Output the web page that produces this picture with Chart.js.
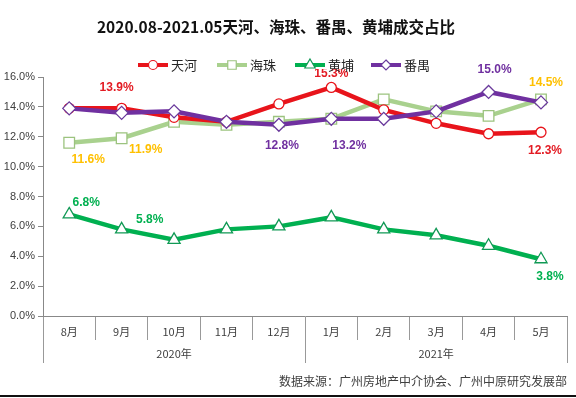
<!DOCTYPE html>
<html>
<head>
<meta charset="utf-8">
<script src="https://cdn.jsdelivr.net/npm/chart.js@4/dist/chart.umd.min.js"></script>
<style>
body{margin:0;background:#fff;}
#wrap{position:relative;width:576px;height:398px;background:#fff;overflow:hidden;}
#title{position:absolute;left:0;top:16px;width:552px;text-align:center;font:bold 15.5px/20px "Noto Sans CJK SC",sans-serif;color:#111;}
#src{position:absolute;right:9px;top:373px;font:12px/16px "Noto Sans CJK SC",sans-serif;color:#404040;}
#bar{position:absolute;left:0;top:395px;width:576px;height:2px;background:#111;}
</style>
</head>
<body>
<div id="wrap">
<canvas id="MyChart" width="576" height="398"></canvas>
<div id="title">2020.08-2021.05天河、海珠、番禺、黄埔成交占比</div>
<div id="src">数据来源：广州房地产中介协会、广州中原研究发展部</div>
<div id="bar"></div>
</div>
<script>
var months = ["8月", "9月", "10月", "11月", "12月", "1月", "2月", "3月", "4月", "5月"];
var years = ["2020年", "2021年"];
var names = ["天河", "海珠", "黄埔", "番禺"];
var tianhe = [13.9, 13.9, 13.3, 13.0, 14.2, 15.3, 13.8, 12.9, 12.2, 12.3];
var haizhu = [11.6, 11.9, 13.0, 12.8, 13.0, 13.2, 14.5, 13.7, 13.4, 14.5];
var huangpu = [6.8, 5.8, 5.1, 5.8, 6.0, 6.6, 5.8, 5.4, 4.7, 3.8];
var panyu = [13.9, 13.6, 13.7, 13.0, 12.8, 13.2, 13.2, 13.7, 15.0, 14.3];
var yTicks = [0, 2, 4, 6, 8, 10, 12, 14, 16];

// points that carry a value label: [series, month]
var labelPoints = [[0,1],[0,5],[0,9],[1,0],[1,1],[1,9],[2,0],[2,1],[2,9],[3,4],[3,5],[3,8]];
// label offsets from the point (px)
var labelOffsets = [[-5,-21],[0,-14],[4,18],[19,17],[24,11],[5,-17],[17,-12],[28,-10],[9,17],[3,21],[18,27],[6,-22]];
var labelColors = ["#E31B23", "#FFC000", "#00B050", "#7030A0"];

function drawMarker(c, style, x, y, r) {
	c.beginPath();
	if (style == "circle") {
		c.arc(x, y, r, 0, Math.PI * 2);
	} else if (style == "rect") {
		var s = r * Math.SQRT1_2;
		c.rect(x - s, y - s, 2 * s, 2 * s);
	} else if (style == "triangle") {
		c.moveTo(x, y - r);
		c.lineTo(x + r * 0.866, y + r * 0.5);
		c.lineTo(x - r * 0.866, y + r * 0.5);
		c.closePath();
	} else {
		c.moveTo(x, y - r);
		c.lineTo(x + r, y);
		c.lineTo(x, y + r);
		c.lineTo(x - r, y);
		c.closePath();
	}
	c.fill();
	c.stroke();
}

var valueLabels = {
	id: "valueLabels",
	afterDatasetsDraw: function(chart) {
		var c = chart.ctx;
		c.save();
		c.font = "bold 12px 'Liberation Sans', Arial, sans-serif";
		c.textAlign = "center";
		c.textBaseline = "middle";
		labelPoints.forEach(function(p, k) {
			var pt = chart.getDatasetMeta(p[0]).data[p[1]];
			var v = chart.data.datasets[p[0]].data[p[1]];
			c.fillStyle = labelColors[p[0]];
			c.fillText(v.toFixed(1) + "%", pt.x + labelOffsets[k][0], pt.y + labelOffsets[k][1]);
		});
		c.restore();
	}
};

var lineLegend = {
	id: "lineLegend",
	afterDraw: function(chart, args, opts) {
		var c = chart.ctx;
		c.save();
		chart.data.datasets.forEach(function(ds, i) {
			var x = opts.x[i], y = opts.y;
			c.fillStyle = "#fff";
			c.fillRect(x - 2, y - 8, 64, 12);
			c.strokeStyle = ds.borderColor;
			c.lineWidth = 4;
			c.beginPath();
			c.moveTo(x, y);
			c.lineTo(x + 30, y);
			c.stroke();
			c.fillStyle = "#fff";
			c.lineWidth = 1.2;
			c.strokeStyle = ds.pointBorderColor;
			drawMarker(c, ds.pointStyle, x + 15, y, opts.r[i]);
			c.fillStyle = "#262626";
			c.font = "13px 'Noto Sans CJK SC', sans-serif";
			c.textBaseline = "middle";
			c.fillText(ds.label, x + 33, y);
		});
		c.restore();
	}
};

var ctx = document.getElementById("MyChart").getContext("2d");
var chart = new Chart(ctx, {
	type: "line",
	data: {
		labels: months,
		datasets: [{
			label: names[0], data: tianhe, borderColor: "#E8141B", pointBorderColor: "#E8141B",
			pointStyle: "circle", pointRadius: 5, order: 1
		}, {
			label: names[1], data: haizhu, borderColor: "#A9D18E", pointBorderColor: "#9CC37F",
			pointStyle: "rect", pointRadius: 7.5, order: 2
		}, {
			label: names[2], data: huangpu, borderColor: "#00B050", pointBorderColor: "#119955",
			pointStyle: "triangle", pointRadius: 7, order: 3
		}, {
			label: names[3], data: panyu, borderColor: "#7030A0", pointBorderColor: "#6A3A9C",
			pointStyle: "rectRot", pointRadius: 6.5, order: 0
		}]
	},
	options: {
		responsive: false,
		animation: false,
		layout: { padding: { top: 77, left: 0, right: 1, bottom: 35 } },
		elements: {
			line: { borderWidth: 4.5, tension: 0 },
			point: { backgroundColor: "#fff", borderWidth: 1.3 }
		},
		datasets: { line: { pointBackgroundColor: "#fff", pointBorderWidth: 1.3 } },
		plugins: {
			legend: { display: false },
			tooltip: { enabled: false },
			lineLegend: { x: [138, 217, 295, 371], y: 65, r: [4.5, 6, 6, 5] }
		},
		scales: {
			y: {
				min: 0, max: 16,
				afterBuildTicks: function(s) { s.ticks = yTicks.map(function(v) { return { value: v }; }); },
				ticks: {
					callback: function(v) { return v.toFixed(1) + "%"; },
					font: { size: 11, family: "'Liberation Sans', Arial, sans-serif" },
					color: "#404040", padding: 3
				},
				grid: { drawOnChartArea: false, tickLength: 5, color: "#888" },
				border: { color: "#888" },
				afterFit: function(s) { s.width = 43; }
			},
			x: {
				offset: true, weight: 0,
				grid: { offset: true, drawOnChartArea: false, tickLength: 24, color: "#999" },
				border: { color: "#888" },
				ticks: {
					font: { size: 11, family: "'Noto Sans CJK SC', sans-serif" },
					color: "#404040", padding: -15, maxRotation: 0, autoSkip: false
				},
				afterFit: function(s) { s.height = 24; }
			},
			x2: {
				type: "category", labels: years, position: "bottom", offset: true, weight: 1,
				grid: { offset: true, drawOnChartArea: false, tickLength: 23, color: "#999" },
				border: { display: false },
				ticks: {
					font: { size: 11, family: "'Noto Sans CJK SC', sans-serif" },
					color: "#404040", padding: -16, maxRotation: 0
				},
				afterFit: function(s) { s.height = 23; }
			}
		}
	},
	plugins: [valueLabels, lineLegend]
});
</script>
</body>
</html>
